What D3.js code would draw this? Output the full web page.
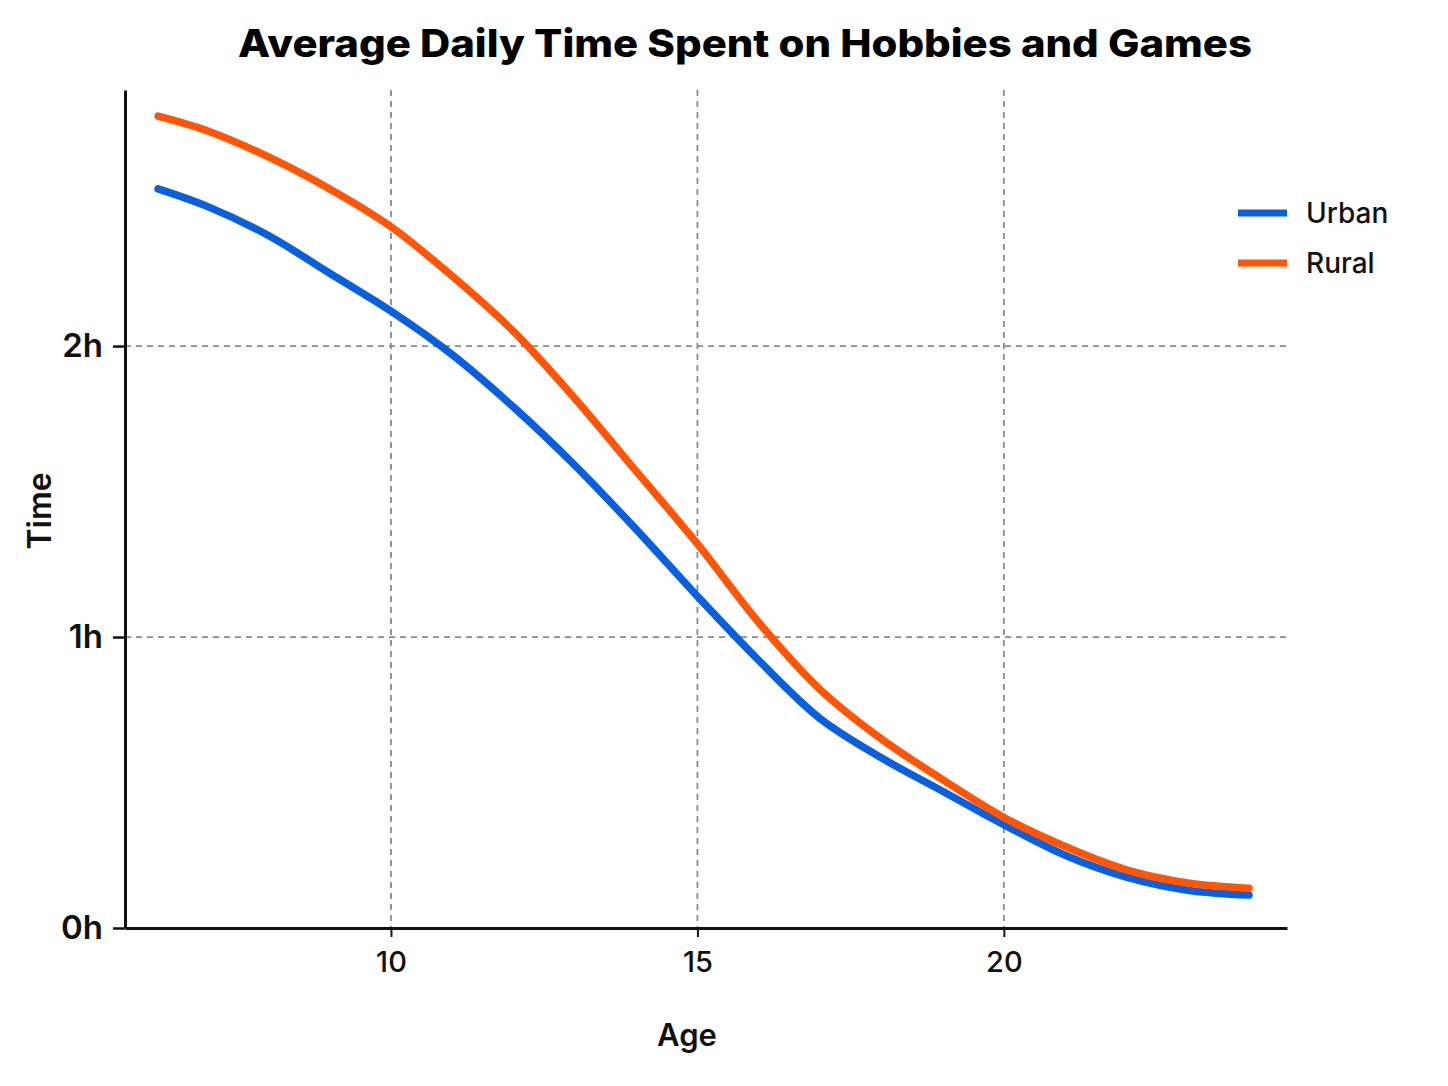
<!DOCTYPE html>
<html>
<head>
<meta charset="utf-8">
<script src="https://cdn.jsdelivr.net/npm/d3@7"></script>
<style>
  html, body { margin: 0; padding: 0; background: #ffffff; }
  svg { display: block; font-family: Inter, "Open Sans", sans-serif; }
</style>
</head>
<body>
<svg id="chart" width="1448" height="1086"></svg>
<script>
// ---- data ----
const ages = [6.2, 7, 8, 9, 10, 11, 12, 13, 14, 15, 16, 17, 18, 19, 20, 21, 22, 23, 24];
const urban = [2.54, 2.48, 2.38, 2.25, 2.12, 1.97, 1.79, 1.59, 1.37, 1.14, 0.92, 0.72, 0.585, 0.47, 0.355, 0.25, 0.175, 0.13, 0.113];
const rural = [2.79, 2.74, 2.65, 2.54, 2.41, 2.24, 2.05, 1.82, 1.57, 1.32, 1.05, 0.82, 0.65, 0.51, 0.38, 0.28, 0.20, 0.155, 0.137];
const seriesNames = ["Urban", "Rural"];
const xTicks = [10, 15, 20];
const yTicks = [0, 1, 2];
const yTickLabels = ["0h", "1h", "2h"];
const title = "Average Daily Time Spent on Hobbies and Games";
const xTitle = "Age";
const yTitle = "Time";

// ---- layout ----
const colors = { Urban: "#0a5fdc", Rural: "#ff5506" };
const mLeft = 125, mRight = 1287, mTop = 90, mBottom = 928;
const FONT = "Inter, 'Open Sans', sans-serif";

const svg = d3.select("#chart");

const x = d3.scaleLinear().domain([5.66, 24.62]).range([mLeft, mRight]);
const y = d3.scaleLinear().domain([0, 2.88]).range([mBottom, mTop]);

// gridlines
const grid = svg.append("g").attr("class", "grid");
grid.selectAll("line.v").data(xTicks).join("line")
  .attr("class", "v")
  .attr("x1", d => x(d)).attr("x2", d => x(d))
  .attr("y1", mTop).attr("y2", mBottom)
  .attr("stroke", "#8a8a8a").attr("stroke-width", 1.8).attr("stroke-dasharray", "6,5");
grid.selectAll("line.h").data(yTicks.filter(d => d > 0)).join("line")
  .attr("class", "h")
  .attr("x1", mLeft).attr("x2", mRight + 3)
  .attr("y1", d => y(d)).attr("y2", d => y(d))
  .attr("stroke", "#8a8a8a").attr("stroke-width", 1.8).attr("stroke-dasharray", "6,5");

// axes
const xAxis = svg.append("g")
  .attr("transform", `translate(0,${mBottom})`)
  .call(d3.axisBottom(x).tickValues(xTicks).tickSize(9).tickPadding(14).tickSizeOuter(0));
xAxis.select(".domain").attr("stroke", "#111").attr("stroke-width", 3);
xAxis.selectAll(".tick line").attr("stroke", "#111").attr("stroke-width", 2);
xAxis.selectAll(".tick text").attr("font-size", 29).attr("fill", "#111").attr("font-weight", 500)
  .attr("font-family", FONT);

const yAxis = svg.append("g")
  .attr("transform", `translate(${mLeft},0)`)
  .call(d3.axisLeft(y).tickValues(yTicks).tickFormat((d, i) => yTickLabels[i]).tickSize(12).tickPadding(10).tickSizeOuter(0));
yAxis.select(".domain").attr("stroke", "#111").attr("stroke-width", 3);
yAxis.selectAll(".tick line").attr("stroke", "#111").attr("stroke-width", 2.5);
yAxis.selectAll(".tick text").attr("font-size", 33).attr("fill", "#111").attr("font-weight", 600)
  .attr("font-family", FONT);

// lines
const data = {
  Urban: ages.map((a, i) => [a, urban[i]]),
  Rural: ages.map((a, i) => [a, rural[i]])
};
const line = d3.line().x(d => x(d[0])).y(d => y(d[1])).curve(d3.curveCatmullRom.alpha(0.5));
seriesNames.forEach(name => {
  svg.append("path")
    .datum(data[name])
    .attr("d", line)
    .attr("fill", "none")
    .attr("stroke", colors[name])
    .attr("stroke-width", 7.5)
    .attr("stroke-linecap", "round")
    .attr("stroke-linejoin", "round");
});

// title
svg.append("text")
  .attr("x", 745).attr("y", 57)
  .attr("text-anchor", "middle")
  .attr("font-size", 38).attr("font-weight", 800).attr("fill", "#000")
  .attr("textLength", 1014).attr("lengthAdjust", "spacingAndGlyphs")
  .text(title);

// axis titles
svg.append("text")
  .attr("x", 687).attr("y", 1046)
  .attr("text-anchor", "middle")
  .attr("font-size", 31).attr("font-weight", 600).attr("fill", "#111")
  .text(xTitle);
svg.append("text")
  .attr("transform", "translate(51,511) rotate(-90)")
  .attr("text-anchor", "middle")
  .attr("font-size", 32).attr("font-weight", 600).attr("fill", "#111")
  .text(yTitle);

// legend
const legend = svg.append("g");
seriesNames.forEach((name, i) => {
  const ly = 213 + i * 50;
  legend.append("line")
    .attr("x1", 1238).attr("x2", 1287).attr("y1", ly).attr("y2", ly)
    .attr("stroke", colors[name]).attr("stroke-width", 7);
  legend.append("text")
    .attr("x", 1306).attr("y", ly + 10)
    .attr("font-size", 28).attr("font-weight", 500).attr("fill", "#111")
    .text(name);
});
</script>
</body>
</html>
